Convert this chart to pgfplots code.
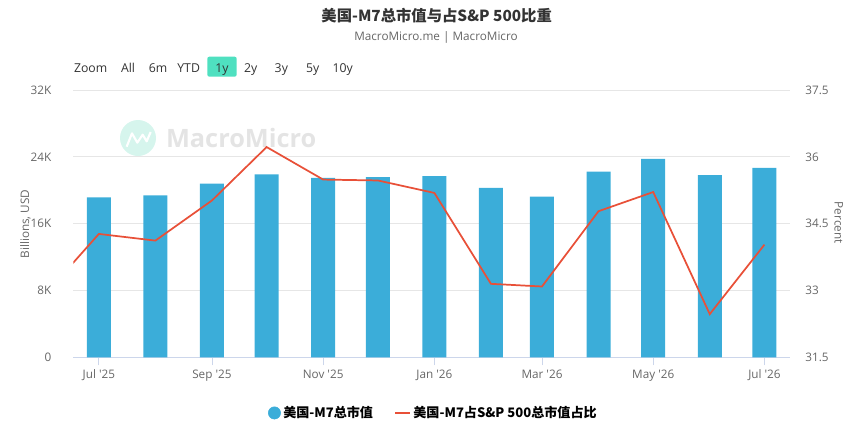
\documentclass[border=0pt]{standalone}
\usepackage{pgfplots}
\pgfplotsset{compat=1.18}
\usepackage{fontspec}
\setmainfont{Open Sans}
\newfontfamily\cjk{Noto Sans CJK SC}
\definecolor{barblue}{RGB}{59,173,217}
\definecolor{linered}{RGB}{232,80,56}
\definecolor{gridgray}{RGB}{230,230,230}
\definecolor{axgray}{RGB}{204,214,235}
\definecolor{txtgray}{RGB}{102,102,102}
\definecolor{btn}{RGB}{79,224,192}
\definecolor{wmteal}{RGB}{214,245,237}
\definecolor{wmgray}{RGB}{228,228,228}
\pgfplotsset{shortline legend/.style={legend image code/.code={\draw[##1] (0pt,0pt) -- (11pt,0pt);}}}
\begin{document}
\begin{tikzpicture}
\useasboundingbox (0,0) rectangle (648.75pt,-319.5pt);
% title
\node[font=\cjk\bfseries\fontsize{11.5}{12}\selectfont, text={rgb,255:red,51;green,51;blue,51}] at (327.5pt,-11.5pt) {美国-M7总市值与占S\&P 500比重};
\node[font=\fontsize{8.8}{10}\selectfont, text=txtgray] at (327pt,-28pt) {MacroMicro.me | MacroMicro};
% zoom buttons
\fill[btn, rounded corners=1.5pt] (155.5pt,-42.5pt) rectangle (177.5pt,-57.5pt);
\begin{scope}[every node/.style={font=\fontsize{9.2}{10}\selectfont, text={rgb,255:red,51;green,51;blue,51}, anchor=base}]
\node at (68pt,-54pt) {Zoom};
\node at (96pt,-54pt) {All};
\node at (118.5pt,-54pt) {6m};
\node at (141.5pt,-54pt) {YTD};
\node at (166.5pt,-54pt) {1y};
\node at (188pt,-54pt) {2y};
\node at (211pt,-54pt) {3y};
\node at (234.5pt,-54pt) {5y};
\node at (257pt,-54pt) {10y};
\end{scope}
% watermark
\fill[wmteal] (103.5pt,-103.5pt) circle (13.5pt);
\draw[white, line width=1.6pt, line join=round] (95pt,-110pt) -- (99pt,-100pt) -- (103pt,-107pt) -- (107pt,-101pt) -- (110pt,-106pt) -- (113pt,-99pt);
\node[anchor=west, text=wmgray, font=\fontsize{19}{20}\selectfont\bfseries] at (121pt,-103.5pt) {MacroMicro};
% axis labels
\node[rotate=90, font=\fontsize{8.8}{10}\selectfont, text=txtgray] at (19pt,-168pt) {Billions, USD};
\node[rotate=-90, font=\fontsize{8.8}{10}\selectfont, text=txtgray] at (629pt,-167pt) {Percent};
\begin{axis}[
  at={(55pt,-268pt)}, anchor=south west,
  scale only axis, width=537.5pt, height=200.5pt,
  xmin=-14, xmax=379, ymin=0, ymax=32000,
  axis x line*=bottom, axis y line*=left,
  y axis line style={draw=none},
  x axis line style={draw=axgray},
  ymajorgrids, grid style={gridgray, line width=0.6pt},
  ytick={0,8000,16000,24000,32000},
  yticklabels={0,8K,16K,24K,32K},
  scaled y ticks=false,
  ytick style={draw=none},
  xtick={0,62,123,184,243,304,365},
  xticklabels={Jul \textquotesingle25,Sep \textquotesingle25,Nov \textquotesingle25,Jan \textquotesingle26,Mar \textquotesingle26,May \textquotesingle26,Jul \textquotesingle26},
  tick align=outside, major tick length=6pt,
  xtick style={draw=axgray, line width=0.6pt},
  tick label style={font=\fontsize{8.8}{10}\selectfont, text=txtgray},
  yticklabel style={xshift=-7pt},
  /pgf/number format/assume math mode=true,
]
\addplot[ybar, bar width=18pt, fill=barblue, draw=none] coordinates {
(0,19150) (31,19390) (62,20800) (92,21900) (123,21480) (153,21560) (184,21680)
(215,20280) (243,19240) (274,22240) (304,23760) (335,21800) (365,22680)};
\end{axis}
\begin{axis}[
  at={(55pt,-268pt)}, anchor=south west,
  scale only axis, width=537.5pt, height=200.5pt,
  xmin=-14, xmax=379, ymin=31.5, ymax=37.5,
  axis x line=none, axis y line*=right,
  y axis line style={draw=none},
  ytick={31.5,33,34.5,36,37.5},
  yticklabels={31.5,33,34.5,36,37.5},
  ytick style={draw=none},
  tick label style={font=\fontsize{8.8}{10}\selectfont, text=txtgray},
  yticklabel style={xshift=8pt},
  /pgf/number format/assume math mode=true,
  legend style={at={(0.503,-0.208)}, anchor=center, draw=none, fill=none,
    legend columns=2, font=\cjk\bfseries\fontsize{9.8}{11}\selectfont,
    /tikz/every even column/.append style={column sep=14pt}},
]
\addlegendimage{only marks, mark=*, mark size=4.6pt, color=barblue}
\addlegendentry{美国-M7总市值}
\addplot[linered, line width=1.3pt, mark=none, shortline legend] coordinates {
(-30,32.89) (0,34.27) (31,34.12) (62,35.02) (92,36.22) (123,35.49) (153,35.47) (184,35.19)
(215,33.15) (243,33.09) (274,34.78) (304,35.21) (335,32.47) (365,34.03)};
\addlegendentry{美国-M7占S\&P 500总市值占比}
\end{axis}
\end{tikzpicture}
\end{document}
